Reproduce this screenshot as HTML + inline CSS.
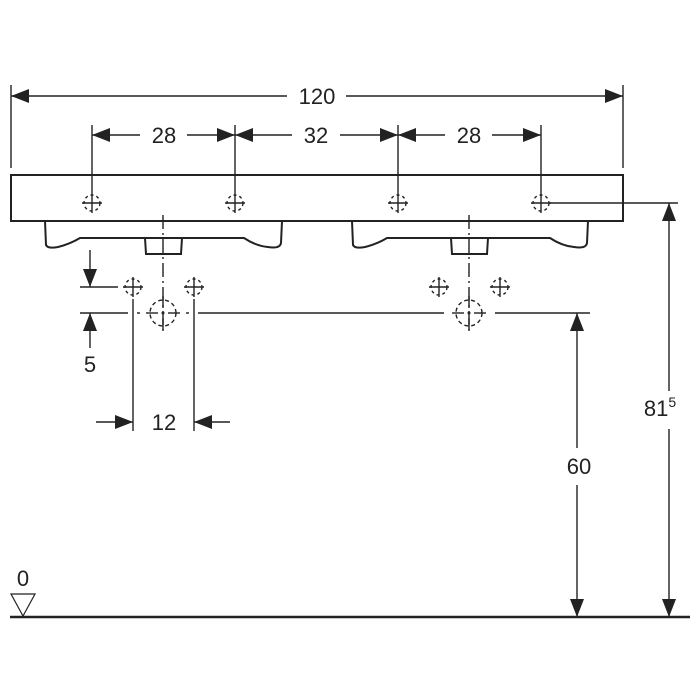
<!DOCTYPE html>
<html><head><meta charset="utf-8"><style>
html,body{margin:0;padding:0;background:#fff;width:700px;height:700px;overflow:hidden}
svg{display:block}
text{font-family:"Liberation Sans",sans-serif;fill:#222}
</style></head><body>
<svg width="700" height="700" viewBox="0 0 700 700" xmlns="http://www.w3.org/2000/svg">
<defs>
<g id="h">
 <circle r="8" fill="none" stroke="#222" stroke-width="1.4" stroke-dasharray="3 3"/>
 <line x1="-10" y1="0" x2="10" y2="0" stroke="#222" stroke-width="1.4"/>
 <line x1="0" y1="-10" x2="0" y2="10" stroke="#222" stroke-width="1.4"/>
</g>
<g id="H">
 <circle r="13" fill="none" stroke="#222" stroke-width="1.4" stroke-dasharray="4 3"/>
 <line x1="-17" y1="0" x2="-5" y2="0" stroke="#222" stroke-width="1.4"/>
 <line x1="5" y1="0" x2="17" y2="0" stroke="#222" stroke-width="1.4"/>
 <line x1="0" y1="-17" x2="0" y2="-5" stroke="#222" stroke-width="1.4"/>
 <line x1="0" y1="5" x2="0" y2="17" stroke="#222" stroke-width="1.4"/>
 <circle r="1.5" fill="#222"/>
</g>
</defs>
<g stroke="#222" stroke-width="1.4" fill="none">
 <!-- extension lines -->
 <line x1="11" y1="85" x2="11" y2="168"/>
 <line x1="623" y1="85" x2="623" y2="168"/>
 <line x1="92" y1="125" x2="92" y2="193"/>
 <line x1="235" y1="125" x2="235" y2="193"/>
 <line x1="398" y1="125" x2="398" y2="193"/>
 <line x1="541" y1="125" x2="541" y2="193"/>
 <!-- 120 -->
 <line x1="11" y1="96" x2="287" y2="96"/>
 <line x1="346" y1="96" x2="623" y2="96"/>
 <!-- 28 32 28 -->
 <line x1="92" y1="135" x2="140" y2="135"/><line x1="187" y1="135" x2="235" y2="135"/>
 <line x1="235" y1="135" x2="292" y2="135"/><line x1="340" y1="135" x2="398" y2="135"/>
 <line x1="398" y1="135" x2="445" y2="135"/><line x1="492" y1="135" x2="541" y2="135"/>
 <!-- basin -->
 <path d="M11 175 L623 175 L623 221 L11 221 Z" stroke-width="2"/>
 <path d="M45 221 L46 245 Q48 249 58 247 Q70 244 80 238 L244 238 Q256 246 268 247 Q280 249 281 243 L282 221" stroke-width="2"/>
 <path d="M352 221 L353 245 Q355 249 365 247 Q377 244 387 238 L550 238 Q562 246 574 247 Q586 249 587 243 L588 221" stroke-width="2"/>
 <path d="M145 238 L146 254 L181 254 L182 238" stroke-width="2"/>
 <path d="M451 238 L452 254 L487 254 L488 238" stroke-width="2"/>
 <!-- center lines -->
 <line x1="163" y1="215" x2="163" y2="335" stroke-dasharray="14 4 2 4"/>
 <line x1="469" y1="215" x2="469" y2="335" stroke-dasharray="14 4 2 4"/>
 <!-- 5 dim -->
 <line x1="80" y1="287" x2="118" y2="287"/>
 <line x1="80" y1="313" x2="128" y2="313"/>
 <line x1="137" y1="313" x2="140" y2="313"/>
 <line x1="186" y1="313" x2="189" y2="313"/>
 <line x1="198" y1="313" x2="444" y2="313"/>
 <line x1="495" y1="313" x2="590" y2="313"/>
 <line x1="90" y1="250" x2="90" y2="287"/>
 <line x1="90" y1="313" x2="90" y2="348"/>
 <!-- 12 dim -->
 <line x1="133" y1="299" x2="133" y2="431"/>
 <line x1="194" y1="299" x2="194" y2="431"/>
 <line x1="96" y1="422" x2="133" y2="422"/>
 <line x1="194" y1="422" x2="230" y2="422"/>
 <!-- 60 dim -->
 <line x1="577" y1="313" x2="577" y2="448"/>
 <line x1="577" y1="485" x2="577" y2="617"/>
 <!-- 81.5 dim -->
 <line x1="550" y1="203" x2="678" y2="203"/>
 <line x1="669" y1="203" x2="669" y2="391"/>
 <line x1="669" y1="429" x2="669" y2="617"/>
 <!-- ground -->
 <line x1="10" y1="617" x2="690" y2="617" stroke-width="2.5"/>
 <path d="M11 594 L35 594 L23 616 Z" stroke-width="1.2"/>
</g>
<g fill="#222">
 <path d="M11 96 L29 89 L29 103 Z"/><path d="M623 96 L605 89 L605 103 Z"/>
 <path d="M92 135 L110 128 L110 142 Z"/><path d="M235 135 L217 128 L217 142 Z"/>
 <path d="M235 135 L253 128 L253 142 Z"/><path d="M398 135 L380 128 L380 142 Z"/>
 <path d="M398 135 L416 128 L416 142 Z"/><path d="M541 135 L523 128 L523 142 Z"/>
 <path d="M90 287 L83 269 L97 269 Z"/><path d="M90 313 L83 331 L97 331 Z"/>
 <path d="M133 422 L115 415 L115 429 Z"/><path d="M194 422 L212 415 L212 429 Z"/>
 <path d="M577 313 L570 331 L584 331 Z"/><path d="M577 617 L570 599 L584 599 Z"/>
 <path d="M669 203 L662 221 L676 221 Z"/><path d="M669 617 L662 599 L676 599 Z"/>
</g>
<use href="#h" x="92" y="203"/><use href="#h" x="235" y="203"/>
<use href="#h" x="398" y="203"/><use href="#h" x="541" y="203"/>
<use href="#h" x="133" y="287"/><use href="#h" x="194" y="287"/>
<use href="#h" x="439" y="287"/><use href="#h" x="500" y="287"/>
<use href="#H" x="163" y="313"/><use href="#H" x="469" y="313"/>
<g font-size="22" text-anchor="middle">
 <text x="317" y="104">120</text>
 <text x="164" y="143">28</text>
 <text x="316" y="143">32</text>
 <text x="469" y="143">28</text>
 <text x="90" y="372">5</text>
 <text x="164" y="430">12</text>
 <text x="579" y="474">60</text>
 <text x="660" y="416">81<tspan font-size="14" dy="-9">5</tspan></text>
 <text x="23" y="586">0</text>
</g>
</svg>
</body></html>
